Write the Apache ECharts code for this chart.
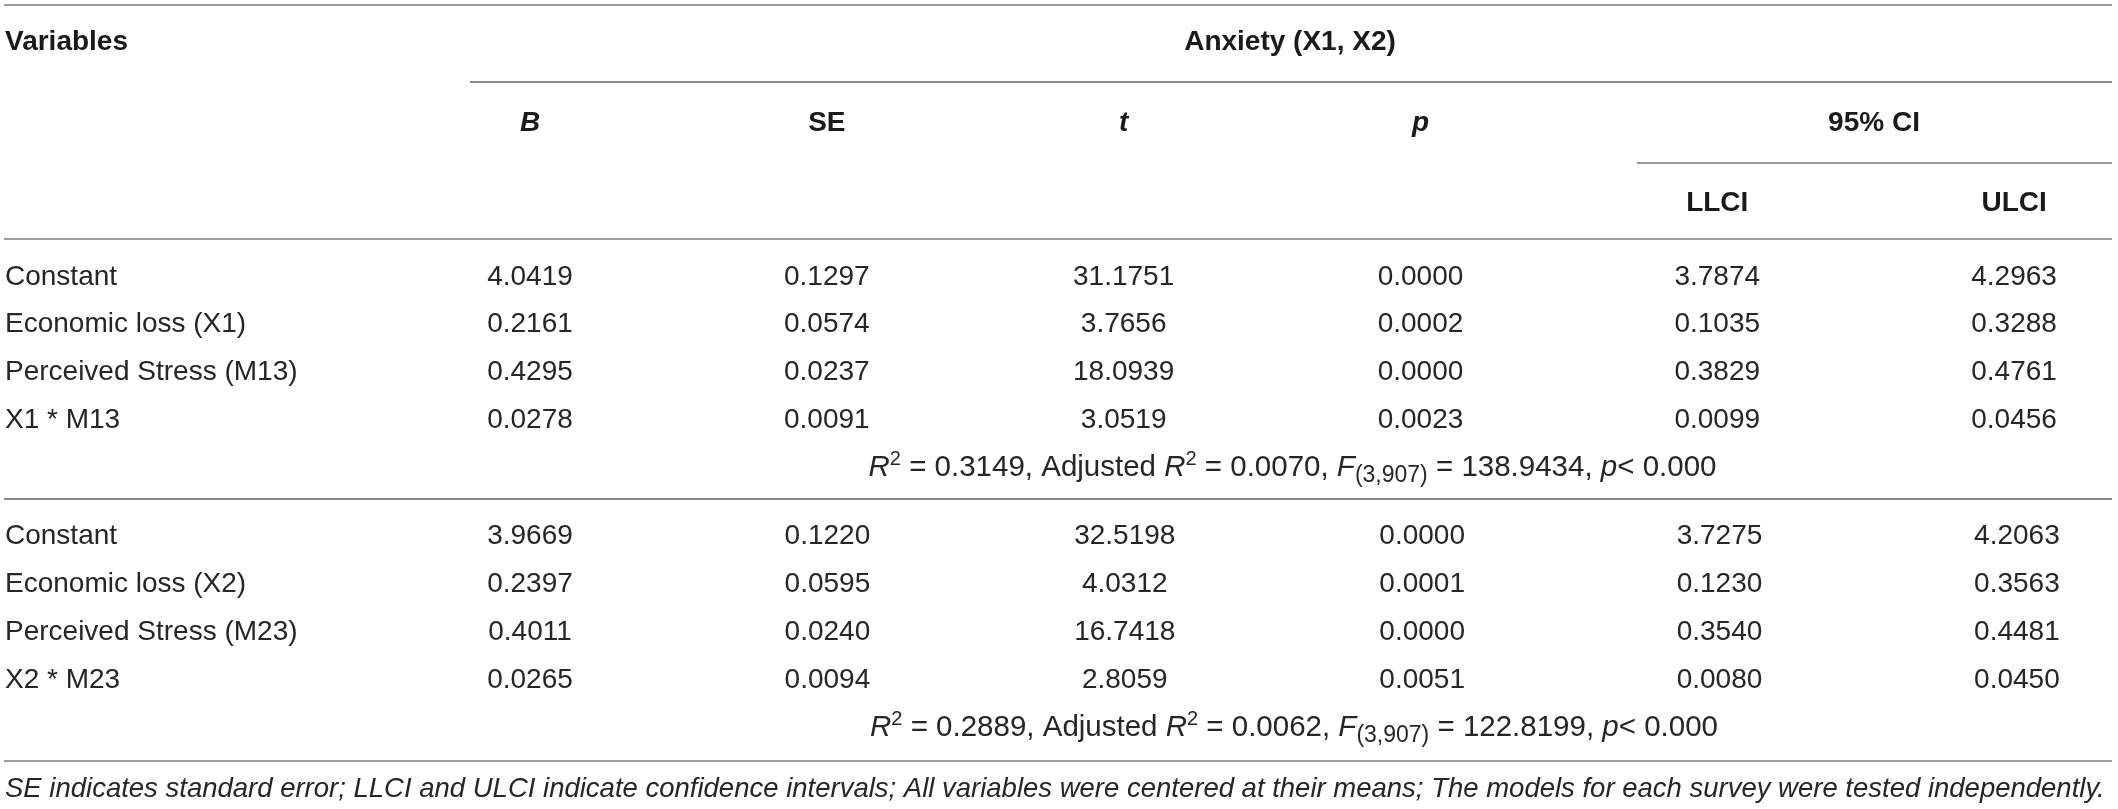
<!DOCTYPE html>
<html>
<head>
<meta charset="utf-8">
<script src="https://cdn.jsdelivr.net/npm/echarts@6/dist/echarts.min.js"></script>
<style>
  html, body { margin: 0; padding: 0; background: #ffffff; }
  #chart { width: 2118px; height: 809px; }
</style>
</head>
<body>
<div id="chart"></div>
<script>
// ---------- data ----------
const columns = ['B', 'SE', 't', 'p', 'LLCI', 'ULCI'];
const italicColumns = ['B', 't', 'p'];
const ciColumns = ['LLCI', 'ULCI'];
const headerVariables = 'Variables';
const headerOutcome = 'Anxiety (X1, X2)';
const headerCI = '95% CI';

const vars1 = ['Constant', 'Economic loss (X1)', 'Perceived Stress (M13)', 'X1 * M13'];
const b1 = [4.0419, 0.2161, 0.4295, 0.0278];
const se1 = [0.1297, 0.0574, 0.0237, 0.0091];
const t1 = [31.1751, 3.7656, 18.0939, 3.0519];
const p1 = [0.0000, 0.0002, 0.0000, 0.0023];
const llci1 = [3.7874, 0.1035, 0.3829, 0.0099];
const ulci1 = [4.2963, 0.3288, 0.4761, 0.0456];

const vars2 = ['Constant', 'Economic loss (X2)', 'Perceived Stress (M23)', 'X2 * M23'];
const b2 = [3.9669, 0.2397, 0.4011, 0.0265];
const se2 = [0.1220, 0.0595, 0.0240, 0.0094];
const t2 = [32.5198, 4.0312, 16.7418, 2.8059];
const p2 = [0.0000, 0.0001, 0.0000, 0.0051];
const llci2 = [3.7275, 0.1230, 0.3540, 0.0080];
const ulci2 = [4.2063, 0.3563, 0.4481, 0.0450];

const modelR2 = [0.3149, 0.2889];
const modelAdjR2 = [0.0070, 0.0062];
const modelDf = ['3,907', '3,907'];
const modelF = [138.9434, 122.8199];
const modelP = ['0.000', '0.000'];

const footnote = 'SE indicates standard error; LLCI and ULCI indicate confidence intervals; All variables were centered at their means; The models for each survey were tested independently.';

// ---------- style ----------
const FONT = '"Liberation Sans", Arial, Helvetica, sans-serif';
const TXT = '#262626';
const HDR = '#1a1a1a';
const RULE = '#8a8a8a';
const FS = 28;

function cells(cols) {
  const out = [];
  cols.forEach((arr, c) => arr.forEach((v, r) => out.push([c, r, v])));
  return out;
}

function fitText(k) {
  return '{i|R}{sup|2}{n| = ' + modelR2[k].toFixed(4) + ', Adjusted }{i|R}{sup|2}{n| = ' +
    modelAdjR2[k].toFixed(4) + ', }{i|F}{sub|(' + modelDf[k] + ')}{n| = ' +
    modelF[k].toFixed(4) + ', }{i|p}{n|< ' + modelP[k] + '}';
}

const fitRich = {
  n: { fontFamily: FONT, fontSize: 29.5, color: TXT, lineHeight: 38 },
  i: { fontFamily: FONT, fontSize: 29.5, color: TXT, fontStyle: 'italic', lineHeight: 38 },
  sup: { fontFamily: FONT, fontSize: 20, color: TXT, lineHeight: 22, verticalAlign: 'top' },
  sub: { fontFamily: FONT, fontSize: 23, color: TXT, lineHeight: 24, verticalAlign: 'bottom' }
};

const gridLeft = 530;
const colMax = 5.34;

const chart = echarts.init(document.getElementById('chart'), null, { renderer: 'canvas' });

const hiddenAxisParts = {
  axisLine: { show: false }, axisTick: { show: false }, splitLine: { show: false }
};

const colLabel = (v) => (Number.isInteger(v) && columns[v] !== undefined) ? columns[v] : '';

const cellLabel = {
  show: true, position: 'inside', fontFamily: FONT, fontSize: FS, color: TXT,
  textBorderWidth: 0, opacity: 1,
  formatter: (pp) => pp.value[2].toFixed(4)
};

function colAxis(gridIndex, position, extra) {
  return Object.assign({
    type: 'value', gridIndex: gridIndex, position: position,
    min: 0, max: colMax, interval: 1
  }, hiddenAxisParts, extra);
}

const option = {
  animation: false,
  backgroundColor: '#ffffff',
  textStyle: { fontFamily: FONT },
  grid: [
    { left: gridLeft, right: 0, top: 277, height: 191 },
    { left: gridLeft, right: 0, top: 536, height: 192 }
  ],
  xAxis: [
    colAxis(0, 'top', {
      axisLabel: {
        margin: 57, showMinLabel: true, showMaxLabel: true,
        formatter: function (v) {
          const name = colLabel(v);
          if (!name) return '';
          const st = italicColumns.indexOf(name) >= 0 ? 'bi' : 'b';
          return ciColumns.indexOf(name) >= 0 ? '{' + st + '|' + name + '}' : '{' + st + '|' + name + '}\n{sp| }';
        },
        rich: {
          b: { fontFamily: FONT, fontSize: FS, fontWeight: 'bold', color: HDR, lineHeight: 34 },
          bi: { fontFamily: FONT, fontSize: FS, fontWeight: 'bold', fontStyle: 'italic', color: HDR, lineHeight: 34 },
          sp: { fontSize: 10, lineHeight: 80 }
        }
      }
    }),
    colAxis(0, 'bottom', {
      axisLabel: { show: false },
      name: fitText(0), nameLocation: 'middle', nameGap: 0,
      nameTextStyle: { rich: fitRich, verticalAlign: 'middle', padding: [0, 60, 0, 0] }
    }),
    colAxis(1, 'bottom', {
      axisLabel: { show: false },
      name: fitText(1), nameLocation: 'middle', nameGap: 0,
      nameTextStyle: { rich: fitRich, verticalAlign: 'middle', padding: [0, 60, 0, 0] }
    })
  ],
  yAxis: [
    Object.assign({
      type: 'category', gridIndex: 0, inverse: true, boundaryGap: false, data: vars1.concat(['']),
      axisLabel: { align: 'left', margin: gridLeft - 5, fontFamily: FONT, fontSize: FS, color: TXT, interval: 0 }
    }, hiddenAxisParts),
    Object.assign({
      type: 'category', gridIndex: 1, inverse: true, boundaryGap: false, data: vars2.concat(['']),
      axisLabel: { align: 'left', margin: gridLeft - 5, fontFamily: FONT, fontSize: FS, color: TXT, interval: 0 }
    }, hiddenAxisParts)
  ],
  series: [
    {
      type: 'scatter', xAxisIndex: 0, yAxisIndex: 0, symbolSize: 2,
      itemStyle: { color: 'rgba(255,255,255,0)', opacity: 1 },
      data: cells([b1, se1, t1, p1, llci1, ulci1]),
      label: cellLabel
    },
    {
      type: 'scatter', xAxisIndex: 2, yAxisIndex: 1, symbolSize: 2,
      itemStyle: { color: 'rgba(255,255,255,0)', opacity: 1 },
      data: cells([b2, se2, t2, p2, llci2, ulci2]),
      label: cellLabel
    }
  ],
  graphic: [
    // table rules
    { type: 'line', shape: { x1: 4, y1: 5, x2: 2112, y2: 5 }, style: { stroke: '#9a9a9a', lineWidth: 2 } },
    { type: 'line', shape: { x1: 470, y1: 82, x2: 2112, y2: 82 }, style: { stroke: RULE, lineWidth: 2 } },
    { type: 'line', shape: { x1: 1637, y1: 163, x2: 2112, y2: 163 }, style: { stroke: '#9a9a9a', lineWidth: 2 } },
    { type: 'line', shape: { x1: 4, y1: 239, x2: 2112, y2: 239 }, style: { stroke: '#a0a0a0', lineWidth: 2 } },
    { type: 'line', shape: { x1: 4, y1: 499, x2: 2112, y2: 499 }, style: { stroke: RULE, lineWidth: 2 } },
    { type: 'line', shape: { x1: 4, y1: 761, x2: 2112, y2: 761 }, style: { stroke: '#a0a0a0', lineWidth: 2 } },
    // header texts
    { type: 'text', x: 5, y: 42, style: { text: headerVariables, font: 'bold 28px ' + FONT, fill: HDR, textAlign: 'left', textVerticalAlign: 'middle' } },
    { type: 'text', x: 1290, y: 42, style: { text: headerOutcome, font: 'bold 28px ' + FONT, fill: HDR, textAlign: 'center', textVerticalAlign: 'middle' } },
    { type: 'text', x: 1874, y: 123, style: { text: headerCI, font: 'bold 28px ' + FONT, fill: HDR, textAlign: 'center', textVerticalAlign: 'middle' } },
    // footnote
    { type: 'text', x: 5, y: 789, style: { text: footnote, font: 'italic 27.5px ' + FONT, fill: TXT, textAlign: 'left', textVerticalAlign: 'middle' } }
  ]
};

chart.setOption(option);
</script>
</body>
</html>
